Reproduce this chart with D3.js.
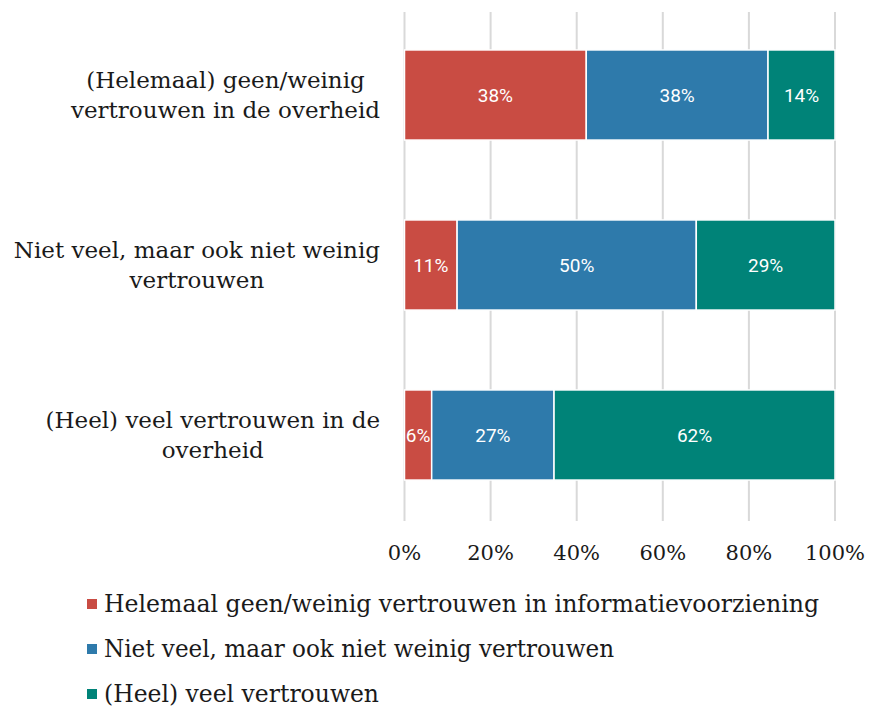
<!DOCTYPE html>
<html>
<head>
<meta charset="utf-8">
<script src="https://cdn.jsdelivr.net/npm/d3@7"></script>
<style>
  body { margin: 0; background: #fff; }
  svg { display: block; }
</style>
</head>
<body>
<div id="chart"></div>
<script>
// data
var categories = [
  ["(Helemaal) geen/weinig", "vertrouwen in de overheid"],
  ["Niet veel, maar ook niet weinig", "vertrouwen"],
  ["(Heel) veel vertrouwen in de", "overheid"]
];
var seriesNames = [
  "Helemaal geen/weinig vertrouwen in informatievoorziening",
  "Niet veel, maar ook niet weinig vertrouwen",
  "(Heel) veel vertrouwen"
];
var seriesColors = ["#c94c43", "#2e7aab", "#008378"];
var lowTrust  = [38, 11, 6];
var midTrust  = [38, 50, 27];
var highTrust = [14, 29, 62];
var tickValues = [0, 0.2, 0.4, 0.6, 0.8, 1];

var width = 872, height = 707;
var svg = d3.select("#chart").append("svg")
  .attr("width", width)
  .attr("height", height);

var x = d3.scaleLinear().domain([0, 1]).range([404.5, 835]);
var y = d3.scaleBand().domain(d3.range(categories.length))
  .range([10, 520]).paddingInner(0.47).paddingOuter(0.235);

// rows as stacked, normalised to 100%
var rows = categories.map(function(c, i) {
  return {i: i, low: lowTrust[i], mid: midTrust[i], high: highTrust[i]};
});
var stack = d3.stack().keys(["low", "mid", "high"]).offset(d3.stackOffsetExpand);
var layers = stack(rows);

// gridlines
svg.append("g")
  .selectAll("line")
  .data(tickValues)
  .join("line")
    .attr("x1", function(d) { return x(d); })
    .attr("x2", function(d) { return x(d); })
    .attr("y1", 12)
    .attr("y2", 521)
    .attr("stroke", "#d9d9d9")
    .attr("stroke-width", 2);

// bars
var groups = svg.append("g")
  .selectAll("g")
  .data(layers)
  .join("g")
    .attr("fill", function(d, k) { return seriesColors[k]; });

groups.selectAll("rect")
  .data(function(d) { return d; })
  .join("rect")
    .attr("x", function(d) { return x(d[0]); })
    .attr("y", function(d) { return y(d.data.i); })
    .attr("width", function(d) { return x(d[1]) - x(d[0]); })
    .attr("height", y.bandwidth())
    .attr("stroke", "#fff")
    .attr("stroke-width", 1.5);

// value labels
groups.selectAll("text")
  .data(function(d) { return d.map(function(p) { p.key = d.key; return p; }); })
  .join("text")
    .attr("x", function(d) { return (x(d[0]) + x(d[1])) / 2; })
    .attr("y", function(d) { return y(d.data.i) + y.bandwidth() / 2; })
    .attr("dy", "0.36em")
    .attr("text-anchor", "middle")
    .attr("fill", "#fff")
    .style("font-family", "Roboto, sans-serif")
    .style("font-size", "19px")
    .text(function(d) { return d.data[d.key] + "%"; });

// category labels, centred block whose right edge sits at 380
var catG = svg.append("g")
  .selectAll("text")
  .data(categories)
  .join("text")
    .attr("text-anchor", "middle")
    .attr("fill", "#1a1a1a")
    .style("font-family", "'DejaVu Serif', serif")
    .style("font-size", "23px");

catG.each(function(lines, i) {
  var t = d3.select(this);
  var cy = y(i) + y.bandwidth() / 2;
  lines.forEach(function(l, j) {
    t.append("tspan")
      .attr("x", 0)
      .attr("y", cy + (j - (lines.length - 1) / 2) * 30)
      .attr("dy", "0.35em")
      .text(l);
  });
  var w = d3.max(t.selectAll("tspan").nodes(), function(n) { return n.getComputedTextLength(); });
  t.selectAll("tspan").attr("x", 380 - w / 2);
});

// x axis labels
svg.append("g")
  .selectAll("text")
  .data(tickValues)
  .join("text")
    .attr("x", function(d) { return x(d); })
    .attr("y", 560)
    .attr("text-anchor", "middle")
    .attr("fill", "#1a1a1a")
    .style("font-family", "'DejaVu Serif', serif")
    .style("font-size", "21px")
    .text(function(d) { return d3.format(".0%")(d); });

// legend
var legendWidths = [715, 510, 275];
var leg = svg.append("g")
  .selectAll("g")
  .data(seriesNames)
  .join("g")
    .attr("transform", function(d, k) { return "translate(87," + (604 + k * 45) + ")"; });

leg.append("rect")
  .attr("x", 0)
  .attr("y", -5)
  .attr("width", 10)
  .attr("height", 10)
  .attr("fill", function(d, k) { return seriesColors[k]; });

leg.append("text")
  .attr("x", 17)
  .attr("dy", "0.35em")
  .attr("fill", "#1a1a1a")
  .attr("textLength", function(d, k) { return legendWidths[k]; })
  .attr("lengthAdjust", "spacingAndGlyphs")
  .style("font-family", "'DejaVu Serif', serif")
  .style("font-size", "24px")
  .text(function(d) { return d; });
</script>
</body>
</html>
